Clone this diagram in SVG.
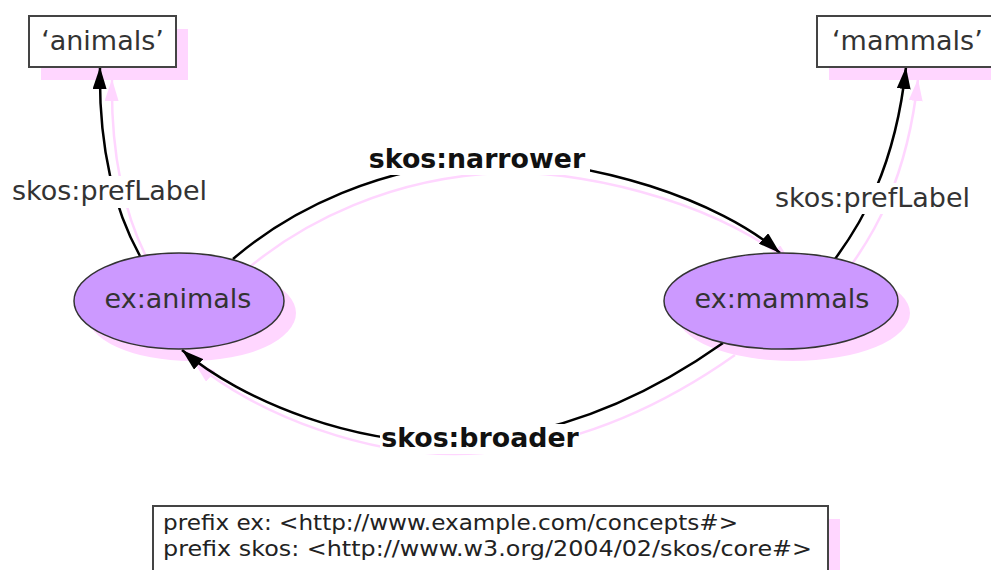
<svg xmlns="http://www.w3.org/2000/svg" width="991" height="570" viewBox="0 0 991 570">
  <style>
    .edge { fill: none; stroke: #000; stroke-width: 2.5; }
    .edge-sh { fill: none; stroke: #ffd6ff; stroke-width: 2.5; }
    .sh { fill: #ffd6ff; stroke: none; }
    .box { fill: #fff; stroke: #444; stroke-width: 2; }
    .concept { fill: #cc99ff; stroke: #333; stroke-width: 1.5; }
    .lbl { font-family: "DejaVu Sans", Verdana, sans-serif; font-size: 27px; fill: #333; }
    .rel { font-family: "DejaVu Sans", Verdana, sans-serif; font-size: 26.8px; font-weight: bold; fill: #111; }
    .bg { fill: #fff; }
    .mono { font-family: "DejaVu Sans", Verdana, sans-serif; font-size: 21px; fill: #222; }
  </style>
  <defs>
    <marker id="ah" viewBox="0 0 22 14" refX="22" refY="7" markerWidth="22" markerHeight="14" markerUnits="userSpaceOnUse" orient="auto">
      <path d="M0,0 L22,7 L0,14 z" fill="#000"/>
    </marker>
    <marker id="ah-sh" viewBox="0 0 22 14" refX="22" refY="7" markerWidth="22" markerHeight="14" markerUnits="userSpaceOnUse" orient="auto">
      <path d="M0,0 L22,7 L0,14 z" fill="#ffd6ff"/>
    </marker>
  </defs>

  <!-- drop shadows, offset down-right -->
  <g id="shadows">
    <g transform="translate(12,12)">
      <path class="edge-sh" d="M140,256 Q98,180 100,67" marker-end="url(#ah-sh)"/>
      <path class="edge-sh" d="M835,259 C860,225 895,170 906,67" marker-end="url(#ah-sh)"/>
      <path class="edge-sh" d="M233,259 C290,210 380,165 490,161 C590,158 720,200 780,253" marker-end="url(#ah-sh)"/>
      <path class="edge-sh" d="M723,343 Q600,430 470,441 C360,450 240,400 182,350" marker-end="url(#ah-sh)"/>
      <ellipse class="sh" cx="179" cy="301" rx="105" ry="48"/>
      <ellipse class="sh" cx="781" cy="301" rx="117" ry="48"/>
    </g>
    <rect class="sh" x="41" y="29" width="147" height="51"/>
    <rect class="sh" x="829" y="29" width="180" height="51"/>
    <rect class="sh" x="165" y="519" width="675" height="60"/>
  </g>

  <!-- connectors -->
  <g id="connectors">
    <path class="edge" d="M140,256 Q98,180 100,67" marker-end="url(#ah)"/>
    <path class="edge" d="M835,259 C860,225 895,170 906,67" marker-end="url(#ah)"/>
    <path class="edge" d="M233,259 C290,210 380,165 490,161 C590,158 720,200 780,253" marker-end="url(#ah)"/>
    <path class="edge" d="M723,343 Q600,430 470,441 C360,450 240,400 182,350" marker-end="url(#ah)"/>
    <rect class="bg" x="10" y="176" width="200" height="32"/>
    <text class="lbl" x="12" y="200">skos:prefLabel</text>
    <rect class="bg" x="773" y="183" width="200" height="31"/>
    <text class="lbl" x="775" y="207">skos:prefLabel</text>
    <rect class="bg" x="366" y="143" width="224" height="32"/>
    <text class="rel" x="477" y="168" text-anchor="middle">skos:narrower</text>
    <rect class="bg" x="380" y="424" width="200" height="30"/>
    <text class="rel" x="480" y="447" text-anchor="middle">skos:broader</text>
  </g>

  <g id="lit-animals">
    <rect class="box" x="29" y="16" width="147" height="51"/>
    <text class="lbl" x="102.5" y="50" text-anchor="middle">‘animals’</text>
  </g>
  <g id="lit-mammals">
    <rect class="box" x="817" y="16" width="180" height="51"/>
    <text class="lbl" x="832" y="50">‘mammals’</text>
  </g>
  <g id="ex-animals">
    <ellipse class="concept" cx="179" cy="301" rx="105" ry="48"/>
    <text class="lbl" x="178" y="308" text-anchor="middle">ex:animals</text>
  </g>
  <g id="ex-mammals">
    <ellipse class="concept" cx="781" cy="301" rx="117" ry="48"/>
    <text class="lbl" x="782" y="308" text-anchor="middle">ex:mammals</text>
  </g>
  <g id="prefixes">
    <rect class="box" x="153" y="506" width="675" height="70"/>
    <text class="mono" x="163" y="530" textLength="575" lengthAdjust="spacingAndGlyphs">prefix ex: &lt;http://www.example.com/concepts#&gt;</text>
    <text class="mono" x="163" y="556" textLength="649" lengthAdjust="spacingAndGlyphs">prefix skos: &lt;http://www.w3.org/2004/02/skos/core#&gt;</text>
  </g>
</svg>
